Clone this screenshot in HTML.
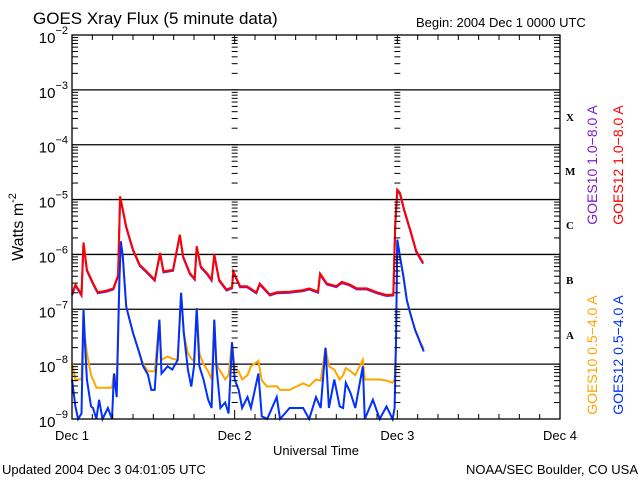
<!DOCTYPE html>
<html><head><meta charset="utf-8"><style>
body{margin:0;background:#fff;}
svg{display:block;font-family:"Liberation Sans",sans-serif;}
</style></head><body>
<svg id="chart" width="640" height="480" viewBox="0 0 640 480">
<rect x="0" y="0" width="640" height="480" fill="#fff"/>
<text x="33" y="24" font-size="17">GOES Xray Flux (5 minute data)</text>
<text x="416" y="27" font-size="13">Begin:  2004 Dec 1 0000 UTC</text>
<text transform="translate(23,227) rotate(-90)" text-anchor="middle" font-size="16">Watts m<tspan dy="-7" font-size="11">-2</tspan></text>
<text x="316" y="455" text-anchor="middle" font-size="13">Universal Time</text>
<text x="2" y="474" font-size="13">Updated 2004 Dec  3 04:01:05 UTC</text>
<text x="638" y="474" text-anchor="end" font-size="13">NOAA/SEC Boulder, CO USA</text>
<g id="grid"></g>
<g id="series"></g>
<g id="axes"></g>
<g font-size="14">
<text transform="translate(597,165) rotate(-90)" text-anchor="middle" fill="#7a1fc8">GOES10 1.0−8.0 A</text>
<text transform="translate(623,165) rotate(-90)" text-anchor="middle" fill="#f00">GOES12 1.0−8.0 A</text>
<text transform="translate(597,355) rotate(-90)" text-anchor="middle" fill="#ffa500">GOES10 0.5−4.0 A</text>
<text transform="translate(623,355) rotate(-90)" text-anchor="middle" fill="#0030ff">GOES12 0.5−4.0 A</text>
</g>
<g font-family="Liberation Serif,serif" font-weight="bold" font-size="11">
<text x="566" y="121">X</text>
<text x="565" y="175">M</text>
<text x="566" y="229">C</text>
<text x="566" y="284">B</text>
<text x="566" y="339">A</text>
</g>
</svg>
<script>
// hours since 2004 Dec 1 00:00 UTC, values are log10(W/m^2)
const longHours = [0,0.5,1.4,1.7,2.2,3.1,3.8,5.1,6.1,6.8,7.1,7.5,8.0,9,10,11,12.2,13,13.5,14.9,15.9,16.4,17.4,18.1,18.4,19,19.9,20.6,21,21.7,22.8,23.6,23.8,24.8,25.8,27.2,27.7,29.2,30.2,32.1,34.1,35,36.3,36.6,37.6,39,39.8,41,42,43.5,45,46.4,47.4,47.7,48,48.4,49,49.9,50.8,51.8];
const goes12Long = [-6.73,-6.55,-6.73,-5.78,-6.28,-6.52,-6.69,-6.66,-6.62,-6.38,-4.94,-5.18,-5.49,-5.91,-6.19,-6.31,-6.46,-5.97,-6.31,-6.28,-5.64,-6.04,-6.34,-6.44,-5.85,-6.22,-6.34,-6.46,-6.0,-6.46,-6.64,-6.6,-6.31,-6.58,-6.58,-6.69,-6.53,-6.73,-6.69,-6.68,-6.65,-6.62,-6.68,-6.35,-6.53,-6.58,-6.5,-6.55,-6.62,-6.62,-6.69,-6.74,-6.73,-5.42,-4.82,-4.88,-5.18,-5.55,-5.94,-6.15];
const goes10Long = goes12Long.slice();
const shortHours = [0,0.5,0.9,1.4,1.7,1.9,2.2,2.8,3.1,3.6,4,4.5,5.3,5.9,6.2,6.6,7.0,7.2,7.5,8,8.5,9,9.8,10.5,11.2,11.7,12.2,12.9,13.2,14.1,14.8,15.6,16.1,16.5,17.1,17.6,18.0,18.4,18.8,19.4,20.1,20.6,21,21.3,21.9,22.6,23.1,23.6,24,24.6,25.1,25.9,26.4,27.5,28,28.8,30.2,30.7,32.1,34.1,35,36,36.7,37.4,37.9,38.7,39.5,40,40.4,41.1,41.8,42.9,43.2,44.4,45.4,46.4,47.3,47.6,47.8,48,48.4,48.9,49.4,49.9,50.6,51.4,51.9];
const goes12Short = [-8.28,-8.77,-9,-8.9,-7.0,-7.6,-8.28,-8.77,-8.8,-9,-8.65,-9,-8.8,-9,-8.17,-8.6,-6.46,-5.76,-6.04,-6.95,-7.19,-7.43,-7.74,-8.04,-8.19,-8.47,-8.47,-7.19,-8.17,-8.04,-8.1,-7.92,-6.7,-7.43,-8.1,-8.41,-8.04,-6.98,-8.04,-8.28,-8.65,-8.8,-7.19,-8.04,-8.8,-8.7,-8.9,-7.6,-8.28,-8.47,-8.8,-8.6,-8.8,-8.17,-8.95,-9,-8.6,-9,-8.8,-8.8,-9,-8.6,-8.8,-7.7,-8.8,-8.28,-8.77,-8.8,-8.34,-8.53,-8.8,-8.04,-9,-8.65,-9,-8.77,-9,-8.8,-7.6,-5.73,-6.04,-6.4,-6.83,-7.07,-7.37,-7.62,-7.77];
const goes10Short = [-7.97,-8.28,-8.28,-8.28,-7.0,-7.5,-7.8,-8.2,-8.28,-8.43,-8.43,-8.43,-8.43,-8.43,-8.17,-8.3,-6.46,-5.76,-6.04,-6.95,-7.19,-7.43,-7.74,-8.0,-8.13,-8.13,-8.13,-7.19,-7.92,-7.86,-7.9,-7.92,-6.7,-7.43,-7.8,-7.9,-7.94,-6.98,-7.8,-8.0,-8.13,-8.28,-7.19,-8.0,-8.13,-8.28,-8.2,-7.6,-8.1,-8.13,-8.28,-8.2,-8.04,-7.94,-8.3,-8.41,-8.4,-8.47,-8.47,-8.35,-8.4,-8.28,-8.3,-7.7,-8.04,-8.1,-8.28,-8.2,-8.07,-8.13,-8.2,-7.92,-8.28,-8.28,-8.28,-8.3,-8.34,-8.28,-7.6,-5.73,-6.04,-6.4,-6.83,-7.07,-7.37,-7.6,-7.72];
const decadeLabels = ["-9","-8","-7","-6","-5","-4","-3","-2"];
const dayLabels = ["Dec 1","Dec 2","Dec 3","Dec 4"];

const X0=72, X1=560, Y0=419, Y1=35, LMIN=-9, LMAX=-2, HMAX=72;
const NS="http://www.w3.org/2000/svg";
function xs(h){return X0+(h/HMAX)*(X1-X0);}
function ys(l){const v=Math.max(LMIN,Math.min(LMAX,l));return Y0-(v-LMIN)/(LMAX-LMIN)*(Y0-Y1);}
function mk(tag,parent,attrs){const e=document.createElementNS(NS,tag);for(const k in attrs)e.setAttribute(k,attrs[k]);parent.appendChild(e);return e;}
const grid=document.getElementById('grid'), axes=document.getElementById('axes'), series=document.getElementById('series');

decadeLabels.forEach((d,i)=>{
  const l=LMIN+i, y=ys(l);
  if(i>0&&i<decadeLabels.length-1){
    const g=mk('line',grid,{x1:X0,x2:X1,y1:y,y2:y,stroke:'#000','stroke-width':1.3});
    
    
  }
  const t=mk('text',axes,{x:68,y:y+8,'text-anchor':'end','font-size':15});
  
  
  t.textContent='10';
  const s=mk('tspan',t,{dy:-9,'font-size':11}); s.textContent=d.replace('-','−');
});
for(let i=0;i<decadeLabels.length-1;i++){
  for(let m=2;m<=9;m++){
    const y=ys(LMIN+i+Math.log10(m));
    const len=6;
    mk('line',axes,{x1:X0,x2:X0+len,y1:y,y2:y,stroke:'#000'});
    mk('line',axes,{x1:X1-len,x2:X1,y1:y,y2:y,stroke:'#000'});
    [1,2].forEach(d=>{const x=xs(d*24);mk('line',axes,{x1:x-3,x2:x+3,y1:y,y2:y,stroke:'#000'});});
  }
  const y=ys(LMIN+i);
  [1,2].forEach(d=>{const x=xs(d*24);mk('line',axes,{x1:x-3,x2:x+3,y1:y,y2:y,stroke:'#000'});});
}
for(let h=0;h<=HMAX;h+=3){
  const x=xs(h), len=(h%24===0)?9:5;
  mk('line',axes,{x1:x,x2:x,y1:Y0,y2:Y0-len,stroke:'#000'});
  mk('line',axes,{x1:x,x2:x,y1:Y1,y2:Y1+len,stroke:'#000'});
}
dayLabels.forEach((d,i)=>{
  const t=mk('text',axes,{x:xs(i*24),y:440,'text-anchor':'middle','font-size':13});
  
  
  t.textContent=d;
});
const frame=mk('rect',axes,{x:X0,y:Y1,width:X1-X0,height:Y0-Y1,fill:'none',stroke:'#000','stroke-width':1.3});



function drawSeries(hours,vals,color,off,name){
  let d='';
  hours.forEach((h,i)=>{const x=xs(h),y=ys(vals[i])+off;d+=(i?'L':'M')+x.toFixed(1)+','+y.toFixed(1);});
  const p=mk('path',series,{d:d,fill:'none',stroke:color,'stroke-width':2,'stroke-linejoin':'miter'});
  
  
}
drawSeries(longHours,goes10Long,'#6a1fc8',1,'series-goes10-long');
drawSeries(longHours,goes12Long,'#ff0000',0,'series-goes12-long');
drawSeries(shortHours,goes10Short,'#ffa500',0,'series-goes10-short');
drawSeries(shortHours,goes12Short,'#0030ff',0,'series-goes12-short');
</script>
</body></html>
